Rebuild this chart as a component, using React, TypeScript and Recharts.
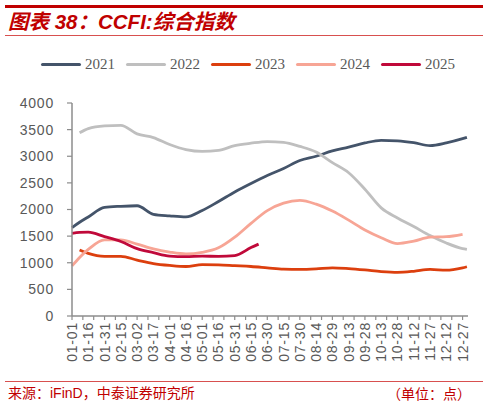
import { LineChart, Line, XAxis, YAxis } from 'recharts';

// x positions are day-of-year (01-01 = 0)
const tickLabels = [
  '01-01', '01-16', '01-31', '02-15', '03-02', '03-17', '04-01', '04-16', '05-01',
  '05-16', '05-31', '06-15', '06-30', '07-15', '07-30', '08-14', '08-29', '09-13',
  '09-28', '10-13', '10-28', '11-12', '11-27', '12-12', '12-27',
];

const days = [0, 7, 15, 30, 45, 60, 75, 90, 105, 120, 135, 150, 165, 172, 180, 195, 210, 225, 240, 255, 270, 285, 300, 315, 330, 345, 360, 364];

const ccfi2021 = [1660, 1760, 1860, 2040, 2060, 2070, 1910, 1880, 1860, 1980, 2150, 2330, 2490, null, 2640, 2770, 2920, 3000, 3100, 3170, 3250, 3300, 3290, 3255, 3200, 3250, 3330, 3355];
const ccfi2022 = [null, 3440, 3520, 3570, 3580, 3420, 3350, 3220, 3125, 3090, 3110, 3200, 3245, null, 3275, 3260, 3185, 3080, 2880, 2690, 2380, 2030, 1840, 1680, 1510, 1370, 1265, 1250];
const ccfi2023 = [null, 1240, 1175, 1120, 1120, 1050, 985, 950, 930, 965, 960, 945, 930, null, 905, 880, 875, 885, 905, 890, 865, 835, 820, 840, 875, 860, 905, 925];
const ccfi2024 = [940, 1100, 1250, 1430, 1430, 1350, 1260, 1200, 1165, 1195, 1280, 1480, 1740, null, 1980, 2120, 2170, 2100, 1970, 1800, 1615, 1470, 1360, 1405, 1480, 1490, 1535, null];
const ccfi2025 = [1550, 1570, 1575, 1490, 1400, 1265, 1190, 1125, 1115, 1125, 1120, 1135, 1285, 1350, null, null, null, null, null, null, null, null, null, null, null, null, null, null];

const yTicks = [0, 500, 1000, 1500, 2000, 2500, 3000, 3500, 4000];

const series = [
  { key: 'y2021', name: '2021', color: '#44546A', values: ccfi2021 },
  { key: 'y2022', name: '2022', color: '#BFBFBF', values: ccfi2022 },
  { key: 'y2023', name: '2023', color: '#DC3F0E', values: ccfi2023 },
  { key: 'y2024', name: '2024', color: '#F7A595', values: ccfi2024 },
  { key: 'y2025', name: '2025', color: '#C0093A', values: ccfi2025 },
];

const data = days.map((day, i) => {
  const row: Record<string, number | null> = { day };
  series.forEach((s) => {
    row[s.key] = s.values[i];
  });
  return row;
});

const labelDays = tickLabels.map((_, i) => i * 15);
const minorDays = Array.from({ length: 37 }, (_, i) => i * 10);
const xTicks = Array.from(new Set([...labelDays, ...minorDays])).sort((a, b) => a - b);

const RED = '#C00000';
const AXIS = '#8C8C8C';
const TEXT = '#595959';

const DayTick = (props: any) => {
  const { x, y, payload } = props;
  const day = payload.value;
  const label = day % 15 === 0 ? tickLabels[day / 15] : null;
  return (
    <g>
      {day % 10 === 0 && <line x1={x} y1={y} x2={x} y2={y + 4} stroke={AXIS} strokeWidth={1.2} />}
      {label && (
        <text
          x={x}
          y={y + 6}
          transform={`rotate(-90 ${x} ${y + 6})`}
          textAnchor="end"
          dominantBaseline="central"
          fontSize={14}
          fill={TEXT}
          fontFamily="'Liberation Sans', Arial, sans-serif"
          letterSpacing={0.8}
        >
          {label}
        </text>
      )}
    </g>
  );
};

const App = () => {
  return (
    <div style={{ position: 'absolute', left: 0, top: 0, width: 488, height: 406, background: '#fff', overflow: 'hidden' }}>
      <div style={{ position: 'absolute', left: 5, top: 5, width: 478, height: 2.5, background: RED }} />
      <div
        style={{
          position: 'absolute',
          left: 8,
          top: 11,
          fontSize: 20.5,
          lineHeight: '22px',
          fontWeight: 'bold',
          fontStyle: 'italic',
          color: RED,
          fontFamily: "'Liberation Sans', 'Noto Sans CJK SC', sans-serif",
          whiteSpace: 'nowrap',
        }}
      >
        图表 38：CCFI:综合指数
      </div>
      <div style={{ position: 'absolute', left: 5, top: 35, width: 478, height: 1, background: '#D8504F' }} />

      <div style={{ position: 'absolute', left: 41, top: 55, display: 'flex', alignItems: 'center' }}>
        {series.map((s) => (
          <div key={s.key} style={{ display: 'flex', alignItems: 'center', marginRight: 11 }}>
            <div style={{ width: 40, height: 3, background: s.color, borderRadius: 1.5 }} />
            <span
              style={{
                marginLeft: 4,
                fontSize: 15,
                lineHeight: '18px',
                color: TEXT,
                fontFamily: "'Liberation Serif', 'Times New Roman', serif",
              }}
            >
              {s.name}
            </span>
          </div>
        ))}
      </div>

      <div style={{ position: 'absolute', left: 0, top: 0 }}>
        <LineChart width={488} height={406} data={data} margin={{ top: 103, right: 20, bottom: 30, left: 10 }}>
          <XAxis
            dataKey="day"
            type="number"
            domain={[0, 365]}
            ticks={xTicks}
            interval={0}
            tick={<DayTick />}
            tickLine={false}
            tickSize={0}
            tickMargin={0}
            axisLine={{ stroke: AXIS, strokeWidth: 1.5 }}
            height={60}
          />
          <YAxis
            domain={[0, 4000]}
            ticks={yTicks}
            interval={0}
            width={62}
            tickSize={5}
            tickMargin={13}
            axisLine={{ stroke: AXIS, strokeWidth: 1.5 }}
            tickLine={{ stroke: AXIS, strokeWidth: 1.2 }}
            tick={{ fontSize: 14, fill: TEXT, fontFamily: "'Liberation Sans', Arial, sans-serif", letterSpacing: 0.8 }}
          />
          {series.map((s) => (
            <Line
              key={s.key}
              dataKey={s.key}
              name={s.name}
              type="monotone"
              stroke={s.color}
              strokeWidth={2.8}
              dot={false}
              connectNulls
              isAnimationActive={false}
            />
          ))}
        </LineChart>
      </div>

      <div style={{ position: 'absolute', left: 5, top: 381, width: 478, height: 1, background: '#D8504F' }} />
      <div
        style={{
          position: 'absolute',
          left: 8,
          top: 384,
          fontSize: 14,
          lineHeight: '18px',
          color: RED,
          fontFamily: "'Liberation Sans', 'Noto Sans CJK SC', sans-serif",
          whiteSpace: 'nowrap',
        }}
      >
        来源：iFinD，中泰证券研究所
      </div>
      <div
        style={{
          position: 'absolute',
          right: 17,
          top: 384,
          fontSize: 14,
          lineHeight: '18px',
          color: RED,
          fontFamily: "'Noto Sans CJK SC', sans-serif",
          whiteSpace: 'nowrap',
        }}
      >
        （单位：点）
      </div>
    </div>
  );
};

export default App;
